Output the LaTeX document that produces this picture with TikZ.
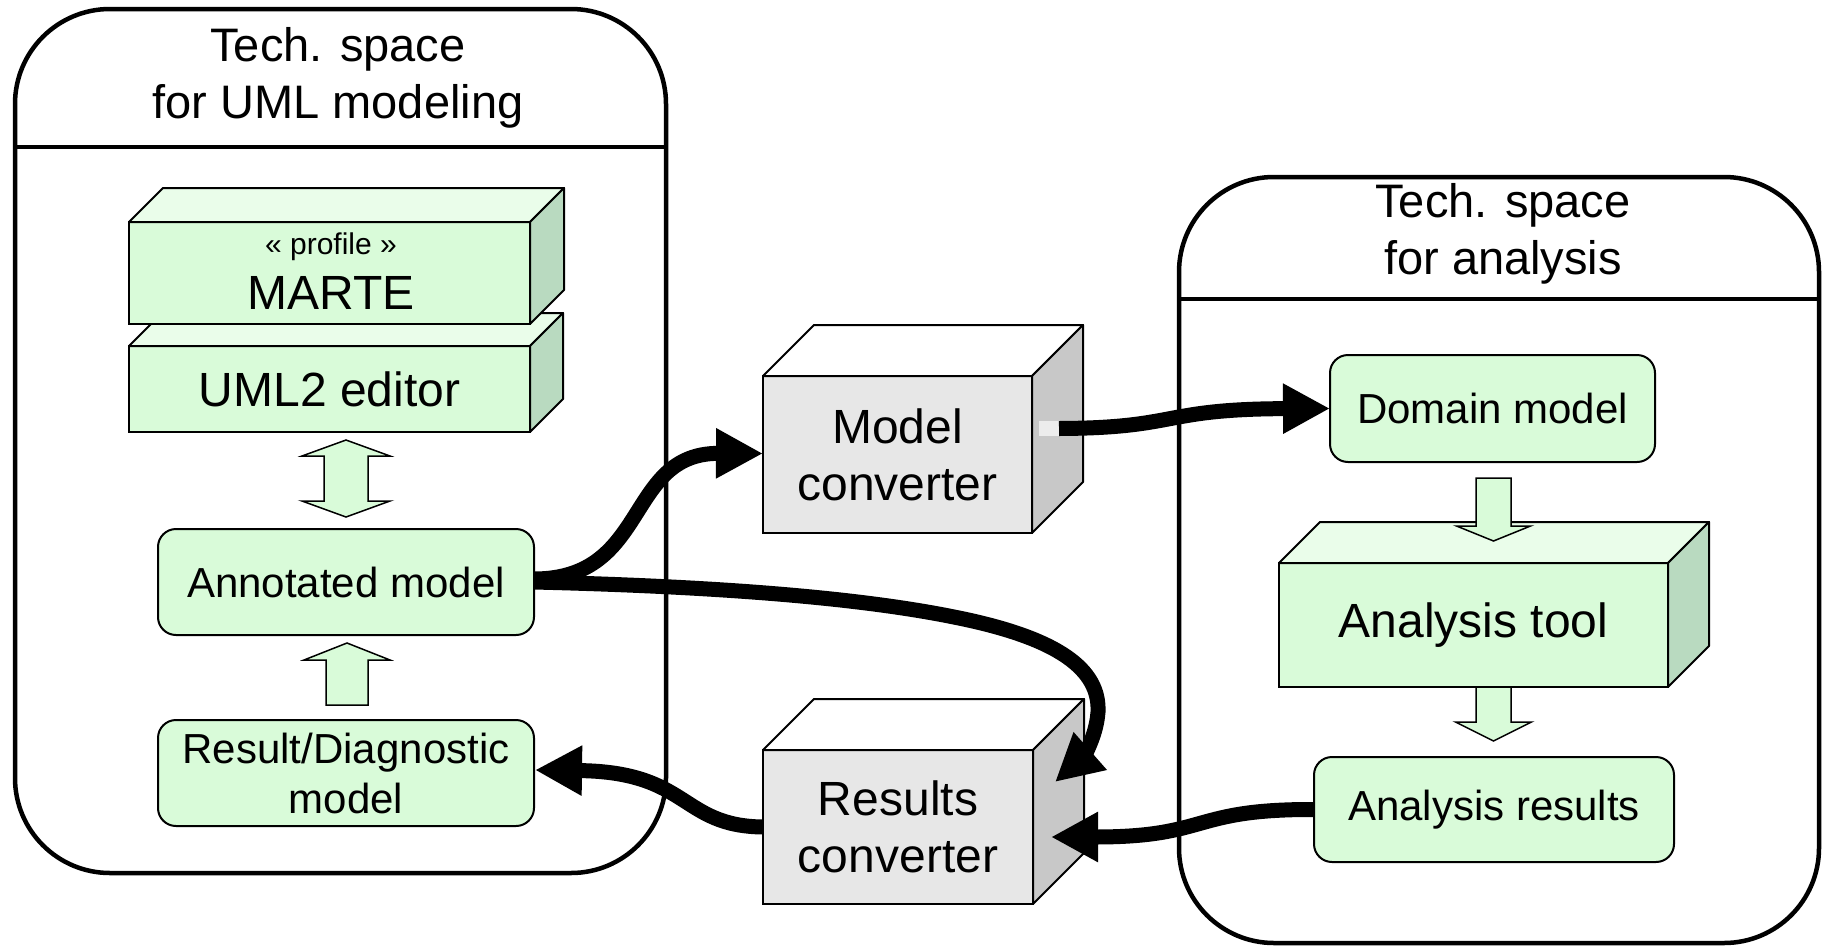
\documentclass[tikz,border=0pt]{standalone}
\usepackage{fontspec}
\setmainfont{Liberation Sans}
\usetikzlibrary{calc,arrows.meta}
\definecolor{gfront}{RGB}{217,251,217}
\definecolor{gtop}{RGB}{234,253,234}
\definecolor{gside}{RGB}{185,218,192}
\definecolor{kfront}{RGB}{231,231,231}
\definecolor{kside}{RGB}{200,200,200}
\definecolor{kport}{RGB}{236,236,236}
\tikzset{
 container/.style={draw, line width=4.5pt, rounded corners=95pt, inner sep=0pt, outer sep=0pt},
 facestyle/.style={draw=black, line width=2pt, line join=round},
 cubefront/.style={draw, line width=2pt, inner sep=0pt, outer sep=0pt, align=center},
 rbox/.style={draw, line width=2pt, rounded corners=18pt, fill=gfront, inner sep=0pt, outer sep=0pt, align=center, font=\fontsize{42}{50}\selectfont},
 bigfont/.style={font=\fontsize{48}{57}\selectfont},
 titlefont/.style={font=\fontsize{47}{57}\selectfont, align=center},
 blockarrow/.style={draw, line width=1.5pt, fill=gfront, line join=miter},
 conn/.style={line width=15pt, -{Triangle[length=47pt,width=47pt]}},
}
\newcommand\cubefaces[4]{%
 \filldraw[fill=#3,facestyle] (#1.north west) -- ($(#1.north west)+(#2,-#2)$) -- ($(#1.north east)+(#2,-#2)$) -- (#1.north east) -- cycle;
 \filldraw[fill=#4,facestyle] (#1.north east) -- ($(#1.north east)+(#2,-#2)$) -- ($(#1.south east)+(#2,-#2)$) -- (#1.south east) -- cycle;}
% vertical block arrow pointing down: start, tip, shaft half, head half, head length
\newcommand\blockdown[5]{\draw[blockarrow] ($(#1)+(-#3,0)$) -- ($(#1)+(#3,0)$) -- ($(#2)+(#3,-#5)$) -- ($(#2)+(#4,-#5)$) -- (#2) -- ($(#2)+(-#4,-#5)$) -- ($(#2)+(-#3,-#5)$) -- cycle;}
\newcommand\blockup[5]{\draw[blockarrow] ($(#1)+(-#3,0)$) -- ($(#1)+(#3,0)$) -- ($(#2)+(#3,#5)$) -- ($(#2)+(#4,#5)$) -- (#2) -- ($(#2)+(-#4,#5)$) -- ($(#2)+(-#3,#5)$) -- cycle;}
\begin{document}
\begin{tikzpicture}[x=1pt,y=-1pt]
\fill[white] (0,0) rectangle (1825,945);
\useasboundingbox (0,0) rectangle (1825,945);

% containers
\node[container, minimum width=651pt, minimum height=864pt] (leftc) at (340.5,441) {};
\draw[line width=4.5pt] ($(leftc.north west)+(0,138)$) -- ($(leftc.north east)+(0,138)$);
\node[titlefont] (ltitle) at (338,78) {Tech. space\\for UML modeling};

\node[container, minimum width=640pt, minimum height=766pt] (rightc) at (1499,560) {};
\draw[line width=4.5pt] ($(rightc.north west)+(0,122)$) -- ($(rightc.north east)+(0,122)$);
\node[titlefont] (rtitle) at (1503,234) {Tech. space\\for analysis};

% UML side
\node[cubefront, fill=gfront, bigfont, minimum width=401pt, minimum height=86pt] (uml) at (329.5,389) {UML2 editor};
\cubefaces{uml}{33}{gtop}{gside}
\node[cubefront, fill=gfront, minimum width=401pt, minimum height=102pt] (marte) at (329.5,273) {};
\cubefaces{marte}{34}{gtop}{gside}
\node[font=\fontsize{30}{36}\selectfont, inner sep=0pt] (prof) at (331,247) {« profile »};
\node[bigfont, inner sep=0pt] (martet) at (331,293) {MARTE};

\node[rbox, minimum width=376pt, minimum height=106pt] (ann) at (346,582) {Annotated model};
\node[rbox, minimum width=376pt, minimum height=106pt] (rd) at (346,773) {Result/Diagnostic\\model};

% double block arrow
\coordinate (dt) at ($(ann.north)+(0,-89)$);
\coordinate (db) at ($(ann.north)+(0,-12)$);
\draw[blockarrow] (dt) -- ($(dt)+(44,16)$) -- ($(dt)+(22,16)$) -- ($(db)+(22,-16)$) -- ($(db)+(44,-16)$) -- (db) -- ($(db)+(-44,-16)$) -- ($(db)+(-22,-16)$) -- ($(dt)+(-22,16)$) -- ($(dt)+(-44,16)$) -- cycle;
% up block arrow
\coordinate (us) at ($(rd.north)+(1,-15)$);
\coordinate (ut) at ($(ann.south)+(1,8)$);
\blockup{us}{ut}{21}{43}{17}

% converters
\node[cubefront, fill=kfront, bigfont, minimum width=269pt, minimum height=157pt] (mconv) at (897.5,454.5) {Model\\converter};
\cubefaces{mconv}{51}{white}{kside}
\node[cubefront, fill=kfront, bigfont, minimum width=270pt, minimum height=154pt] (rconv) at (898,827) {Results\\converter};
\cubefaces{rconv}{51}{white}{kside}

% analysis side
\node[rbox, minimum width=325pt, minimum height=107pt] (dom) at (1492.5,408.5) {Domain model};
\node[cubefront, fill=gfront, bigfont, minimum width=389pt, minimum height=124pt] (atool) at (1473.5,625) {Analysis tool};
\cubefaces{atool}{41}{gtop}{gside}
\node[rbox, minimum width=360pt, minimum height=105pt] (ares) at (1494,809.5) {Analysis results};

\coordinate (d1s) at ($(dom.south)+(1,16)$);
\coordinate (d1t) at ($(dom.south)+(1,79)$);
\blockdown{d1s}{d1t}{17.5}{37}{15}
\coordinate (d2s) at ($(ares.north)+(-0.5,-70)$);
\coordinate (d2t) at ($(ares.north)+(-0.5,-16)$);
\blockdown{d2s}{d2t}{17.5}{38}{19}

% connectors
\node[fill=kport, minimum width=20pt, minimum height=15pt, inner sep=0pt, outer sep=0pt] (mport) at (1049,428.5) {};
\draw[conn] (mport.east) .. controls (1180,428) and (1160,409) .. (dom.west);
\draw[conn] ($(ann.east)+(0,-3)$) .. controls (650,579) and (625,453) .. ($(mconv.west)+(0,-1)$);
\coordinate (bend) at (954,617);
\coordinate (bend2) at (1098,712);
\draw[conn] (ann.east) .. controls (700,586) and (850,596) .. (bend) .. controls (1060,638) and (1100,670) .. (bend2) .. controls (1096,740) and (1080,760) .. ($(rconv.north east)+(22,32)$);
\draw[conn] (ares.west) .. controls (1190,809) and (1210,837) .. ($(rconv.east)+(18,10)$);
\draw[conn] (rconv.west) .. controls (680,826) and (690,772) .. ($(rd.east)+(1,-3)$);
\end{tikzpicture}
\end{document}
